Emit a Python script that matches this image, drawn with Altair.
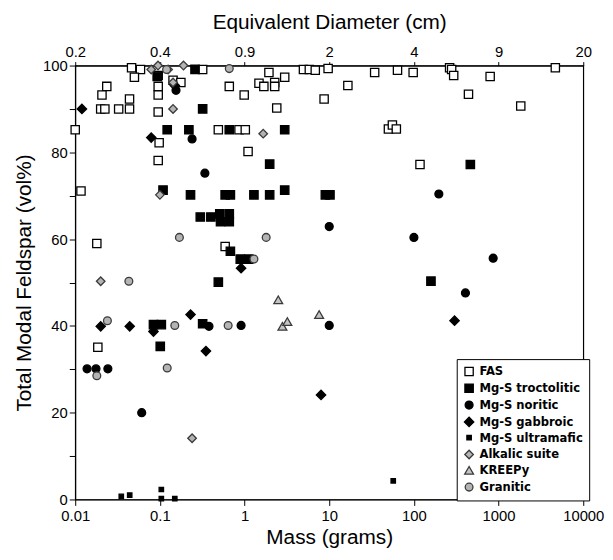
import altair as alt
import pandas as pd

categories = ["FAS", "Mg-S troctolitic", "Mg-S noritic", "Mg-S gabbroic",
              "Mg-S ultramafic", "Alkalic suite", "KREEPy", "Granitic"]

fas_mass = [0.0463, 0.059, 0.050, 0.0236, 0.0207, 0.020, 0.0224, 0.0326, 0.0438, 0.0438,
            0.010, 0.0117, 0.018, 0.0185, 0.0955, 0.0955, 0.0955, 0.0955, 0.098, 0.0955,
            0.143, 0.177, 0.32, 1.94, 2.98, 0.66, 1.48, 1.69, 2.27, 2.27, 0.99, 8.7, 2.40,
            4.96, 5.82, 6.84, 9.7, 0.49, 0.86, 1.02, 1.10, 0.59, 34.4, 64, 98, 264, 279,
            295, 795, 4680, 16.6, 441, 1828, 50, 55.7, 62, 118]
fas_val = [99.5, 99.1, 97.3, 95.2, 93.2, 90.0, 90.0, 90.0, 92.3, 90.0,
           85.2, 71.1, 59.0, 35.1, 97.7, 95.2, 93.2, 89.3, 82.2, 78.1,
           96.6, 96.1, 99.1, 98.4, 97.3, 95.2, 95.9, 95.2, 96.1, 95.2, 93.2, 92.3, 90.2,
           99.1, 99.1, 98.9, 99.3, 85.2, 85.2, 85.2, 80.2, 58.3, 98.4, 98.9, 98.4, 99.5, 99.1,
           97.7, 97.5, 99.5, 95.4, 93.4, 90.7, 85.4, 86.3, 85.4, 77.2]

troc_mass = [0.26, 0.093, 0.32, 0.122, 0.22, 0.66, 2.98, 1.98, 0.109, 0.23, 0.59, 0.68,
             1.29, 1.98, 2.98, 9.0, 10.2, 0.30, 0.40, 0.51, 0.52, 0.66, 0.66, 0.68, 0.89,
             1.12, 0.49, 0.084, 0.104, 0.101, 0.32, 464, 159]
troc_val = [99.1, 97.5, 90.0, 85.2, 85.2, 85.2, 85.2, 77.3, 71.3, 70.2, 70.2, 70.2,
            70.2, 70.2, 71.3, 70.2, 70.2, 65.1, 65.1, 65.8, 64.0, 65.8, 64.0, 57.2, 55.4,
            55.4, 50.1, 40.3, 40.3, 35.3, 40.5, 77.2, 50.3]

nor_mass = [0.155, 0.24, 0.34, 10, 197, 100, 863, 406, 0.38, 0.91, 10, 0.0138, 0.0176,
            0.0243, 0.061]
nor_val = [94.3, 83.1, 75.2, 62.9, 70.4, 60.4, 55.6, 47.6, 39.9, 40.1, 40.1, 30.1, 30.1,
           30.1, 20.0]

gab_mass = [0.012, 0.079, 0.15, 0.020, 0.044, 0.084, 0.23, 0.35, 0.91, 8.0, 302]
gab_val = [90.0, 83.4, 95.4, 39.9, 39.9, 38.7, 42.6, 34.2, 53.3, 24.1, 41.2]

ultra_mass = [0.035, 0.044, 0.104, 0.104, 0.15, 57]
ultra_val = [0.7, 1.0, 2.3, 0.2, 0.2, 4.3]

alk_mass = [0.095, 0.19, 0.079, 0.125, 0.143, 0.143, 0.10, 1.66, 0.020, 0.24]
alk_val = [100, 100, 99.1, 99.1, 96.1, 90.0, 70.2, 84.3, 50.3, 14.1]

kreep_mass = [2.5, 2.8, 3.2, 7.6]
kreep_val = [46.0, 39.9, 41.0, 42.6]

gran_mass = [0.17, 1.8, 0.043, 0.024, 0.15, 0.64, 1.29, 0.122, 0.018, 0.66, 0.12]
gran_val = [60.4, 60.4, 50.3, 41.2, 40.1, 40.1, 55.4, 30.3, 28.5, 99.3, 99.1]

mass_ticks = [0.01, 0.1, 1, 10, 100, 1000, 10000]
diameter_labels = ["0.2", "0.4", "0.9", "2", "4", "9", "20"]
y_ticks = list(range(0, 101, 10))

series = [(fas_mass, fas_val), (troc_mass, troc_val), (nor_mass, nor_val),
          (gab_mass, gab_val), (ultra_mass, ultra_val), (alk_mass, alk_val),
          (kreep_mass, kreep_val), (gran_mass, gran_val)]
rows = []
for cat, (ms, vs) in zip(categories, series):
    for m, v in zip(ms, vs):
        rows.append({"Suite": cat, "mass": m, "feldspar": v})
df = pd.DataFrame(rows)

shapes = ["square", "square", "circle", "diamond", "square", "diamond", "triangle-up", "circle"]
fills = ["white", "black", "black", "black", "black", "#b4b4b4", "#c4c4c4", "#b4b4b4"]
strokes = ["black", "black", "black", "black", "black", "#3a3a3a", "#3a3a3a", "#3a3a3a"]
sizes = [70, 72, 64, 90, 20, 75, 80, 62]

FONT = "Liberation Sans"
LEGEND_FONT = "'Liberation Sans Narrow', 'DejaVu Sans Condensed', 'Liberation Sans', sans-serif"

diam_arr = "[" + ",".join("'%s'" % s for s in diameter_labels) + "]"
top_expr = diam_arr + "[round(log(datum.value)/LN10)+2]"

xscale = alt.Scale(type="log", domain=[mass_ticks[0], mass_ticks[-1]], nice=False)
yscale = alt.Scale(domain=[0, 100], nice=False, zero=True)

points = alt.Chart(df).mark_point(opacity=1, fillOpacity=1, strokeWidth=1.3).encode(
    x=alt.X("mass:Q", scale=xscale,
            axis=alt.Axis(title="Mass (grams)", orient="bottom", values=mass_ticks,
                          format="~g", grid=False, domainColor="black", tickColor="black",
                          tickSize=6, labelFontSize=15, labelFont=FONT, labelColor="black",
                          labelFlush=False, labelOverlap=False,
                          titleFont=FONT, titleFontSize=21, titleFontWeight="normal",
                          titleColor="black", titlePadding=4, labelPadding=3)),
    y=alt.Y("feldspar:Q", scale=yscale,
            axis=alt.Axis(title="Total Modal Feldspar (vol%)", values=y_ticks,
                          labelExpr="datum.value % 20 == 0 ? datum.label : ''",
                          grid=False, domainColor="black", tickColor="black", tickSize=6,
                          labelFontSize=15, labelFont=FONT, labelColor="black",
                          labelFlush=False,
                          titleFont=FONT, titleFontSize=21, titleFontWeight="normal",
                          titleColor="black", titlePadding=8)),
    shape=alt.Shape("Suite:N", scale=alt.Scale(domain=categories, range=shapes),
                    legend=alt.Legend(title=None)),
    fill=alt.Fill("Suite:N", scale=alt.Scale(domain=categories, range=fills),
                  legend=alt.Legend(title=None)),
    stroke=alt.Stroke("Suite:N", scale=alt.Scale(domain=categories, range=strokes),
                      legend=alt.Legend(title=None)),
    size=alt.Size("Suite:N", scale=alt.Scale(type="ordinal", domain=categories, range=sizes),
                  legend=alt.Legend(title=None)),
)

top_axis = alt.Chart(df).mark_point(opacity=0).encode(
    x=alt.X("mass:Q", scale=xscale,
            axis=alt.Axis(title="Equivalent Diameter (cm)", orient="top", values=mass_ticks,
                          labelExpr=top_expr, grid=False, domainColor="black",
                          tickColor="black", tickSize=4, labelFontSize=15, labelFont=FONT,
                          labelColor="black", labelFlush=False, labelOverlap=False,
                          titleFont=FONT, titleFontSize=21,
                          titleFontWeight="normal", titleColor="black", titlePadding=12)),
)

chart = alt.layer(points, top_axis).resolve_axis(x="independent").properties(
    width=514, height=439,
    autosize=alt.AutoSizeParams(type="none"),
    padding={"left": 68, "top": 55, "right": 22, "bottom": 57},
    background="white",
).configure_view(stroke="black", strokeWidth=1.2).configure_legend(
    orient="none", legendX=386, legendY=297, direction="vertical",
    strokeColor="black", fillColor="white", padding=6, rowPadding=2,
    labelFont=LEGEND_FONT, labelFontSize=13, labelFontWeight="bold", labelColor="black",
    symbolStrokeWidth=1.3, labelLimit=200,
)

chart.save("out.html", embed_options={"renderer": "svg", "actions": False})
